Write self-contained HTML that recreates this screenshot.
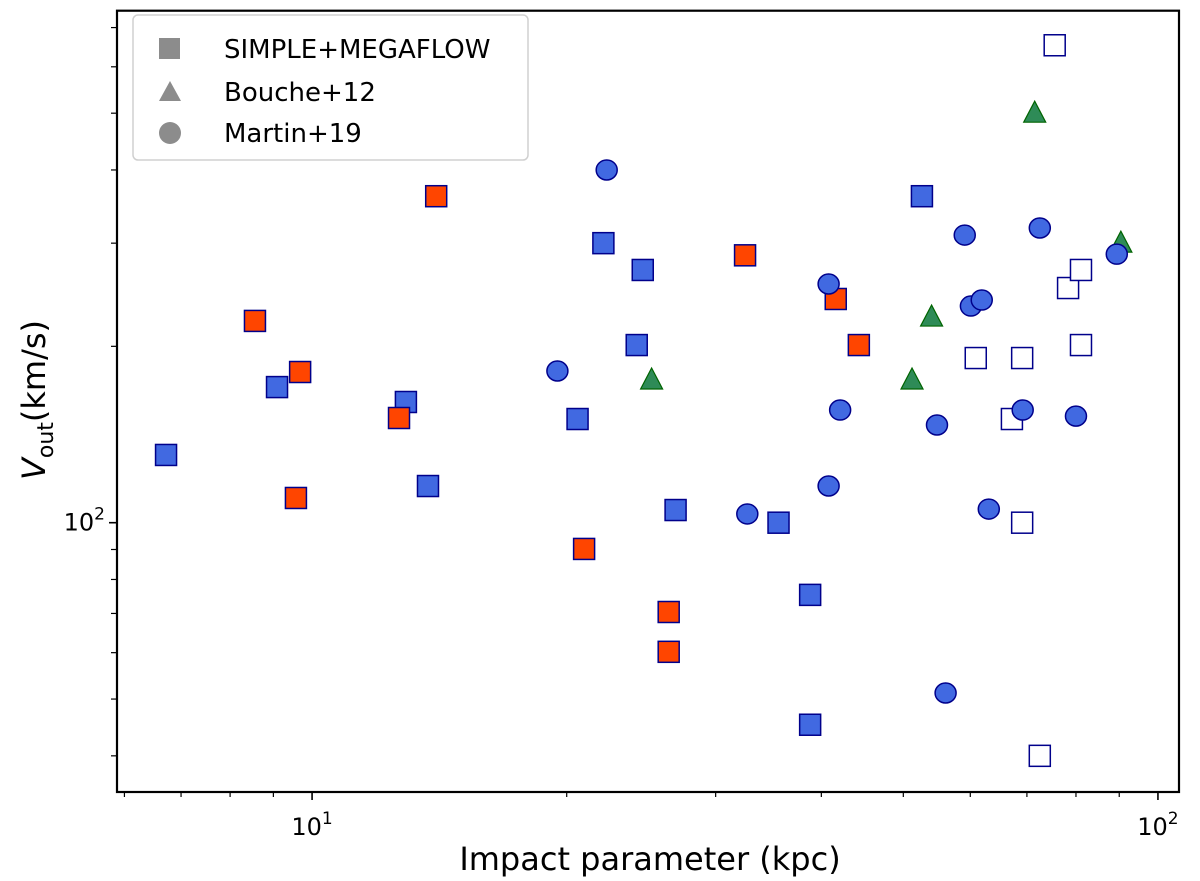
<!DOCTYPE html>
<html><head><meta charset="utf-8"><style>
html,body{margin:0;padding:0;background:#fff;}
svg{display:block;font-family:"DejaVu Sans","Liberation Sans",sans-serif;}
</style></head><body>
<svg id="chart" width="1200" height="881" viewBox="0 0 1200 881" xmlns="http://www.w3.org/2000/svg">
<g id="marks"></g>
<g id="axes"></g>
<g>
<rect x="133" y="15" width="395" height="145" rx="5" fill="#fff" fill-opacity="0.8" stroke="#d0d0d0" stroke-width="1.5"/>
<rect x="159" y="38" width="21" height="21" fill="#8c8c8c"/>
<text x="224" y="58" font-size="26">SIMPLE+MEGAFLOW</text>
<polygon points="170,81 159,101 181,101" fill="#8c8c8c"/>
<text x="224" y="101" font-size="26">Bouche+12</text>
<circle cx="170" cy="133" r="11" fill="#8c8c8c"/>
<text x="224" y="142" font-size="26">Martin+19</text>
</g>
<text x="650" y="870" font-size="32" text-anchor="middle">Impact parameter (kpc)</text>
<text transform="translate(45,400) rotate(-90)" font-size="32" text-anchor="middle"><tspan font-style="italic">V</tspan><tspan font-size="22" dy="8">out</tspan><tspan dy="-8">(km/s)</tspan></text>
</svg>
<script>
const blueX=[6.72,9.09,12.91,13.71,20.6,22.1,24.2,24.6,26.9,35.6,38.8,38.8,52.6];
const blueY=[130.5,170.4,160.7,115.5,150.3,300,201,270,105.1,100,75.3,45.2,360.8];
const redX=[8.56,9.57,9.68,12.67,14.02,20.97,26.4,26.4,32.5,41.6,44.3];
const redY=[221,110.2,180.8,150.9,360.8,90.2,70.4,60.2,286,240.9,201];
const openX=[75.5,60.9,69.1,81.1,67.2,78.3,81.1,69.1,72.5];
const openY=[653,191,191,201,150.3,251.5,270,100,40];
const triX=[71.5,90.4,25.2,54.0,51.2];
const triY=[500,300,175.2,224.4,175.2];
const circX=[22.3,19.5,40.8,42.1,40.8,32.7,59.1,72.5,89.4,60.1,61.9,54.8,69.2,80.0,63.1,56.1];
const circY=[400,181.5,255.5,155.7,115.5,103.5,309.7,318.4,287.3,234.3,239.9,146.8,155.7,152,105.5,51.2];
const xTickVals=[10,100];
const xTickLabels=["1","2"];
const yTickVals=[100];
const yTickLabels=["2"];

const L=117,R=1179,T=10.7,B=792;
const xmin=Math.log10(5.88),xmax=Math.log10(105.9);
const ymin=Math.log10(34.7),ymax=Math.log10(748);
function sx(v){return L+(Math.log10(v)-xmin)/(xmax-xmin)*(R-L);}
function sy(v){return B-(Math.log10(v)-ymin)/(ymax-ymin)*(B-T);}
const NS="http://www.w3.org/2000/svg";
const marks=document.getElementById('marks');
const axes=document.getElementById('axes');
function mk(tag,attrs,parent){const e=document.createElementNS(NS,tag);for(const k in attrs)e.setAttribute(k,attrs[k]);parent.appendChild(e);return e;}
const S=10.5;
blueX.forEach((x,i)=>{const e=mk('rect',{x:sx(x)-S,y:sy(blueY[i])-S,width:2*S,height:2*S,fill:'#4169e1',stroke:'#00008b','stroke-width':1.5},marks);

});
redX.forEach((x,i)=>{const e=mk('rect',{x:sx(x)-S,y:sy(redY[i])-S,width:2*S,height:2*S,fill:'#ff4500',stroke:'#00008b','stroke-width':1.5},marks);

});
openX.forEach((x,i)=>{const e=mk('rect',{x:sx(x)-S,y:sy(openY[i])-S,width:2*S,height:2*S,fill:'#fff',stroke:'#00008b','stroke-width':1.5},marks);

});
triX.forEach((x,i)=>{const cx=sx(x),cy=sy(triY[i]);const e=mk('polygon',{points:`${cx},${cy-12} ${cx-11},${cy+9} ${cx+11},${cy+9}`,fill:'#2e8b57',stroke:'#006400','stroke-width':1.2},marks);

});
circX.forEach((x,i)=>{const e=mk('ellipse',{cx:sx(x),cy:sy(circY[i]),rx:10.5,ry:10,fill:'#4169e1',stroke:'#00008b','stroke-width':1.5},marks);

});

const fr=mk('rect',{x:L,y:T,width:R-L,height:B-T,fill:'none',stroke:'#000','stroke-width':2.2},axes);


for(let d=1;d<=100;d*=10){for(let m=1;m<10;m++){const v=m*d;const lv=Math.log10(v);if(lv<xmin||lv>xmax)continue;const X=sx(v);const major=m===1;
const t=mk('line',{x1:X,x2:X,y1:B,y2:B+(major?8:5),stroke:'#000','stroke-width':major?1.6:1.2},axes);

}}
xTickVals.forEach((v,i)=>{const t=mk('text',{x:sx(v),y:835,'font-size':24,'text-anchor':'middle'},axes);t.innerHTML=`10<tspan font-size="17" dy="-11">${xTickLabels[i]}</tspan>`;

});
for(let d=10;d<=1000;d*=10){for(let m=1;m<10;m++){const v=m*d;const lv=Math.log10(v);if(lv<ymin||lv>ymax)continue;const Y=sy(v);const major=m===1;
const t=mk('line',{x1:L,x2:L-(major?8:6),y1:Y,y2:Y,stroke:'#000','stroke-width':major?1.6:1.2},axes);

}}
yTickVals.forEach((v,i)=>{const t=mk('text',{x:L-12,y:sy(v)+8,'font-size':24,'text-anchor':'end'},axes);t.innerHTML=`10<tspan font-size="17" dy="-11">${yTickLabels[i]}</tspan>`;

});
</script>
</body></html>
